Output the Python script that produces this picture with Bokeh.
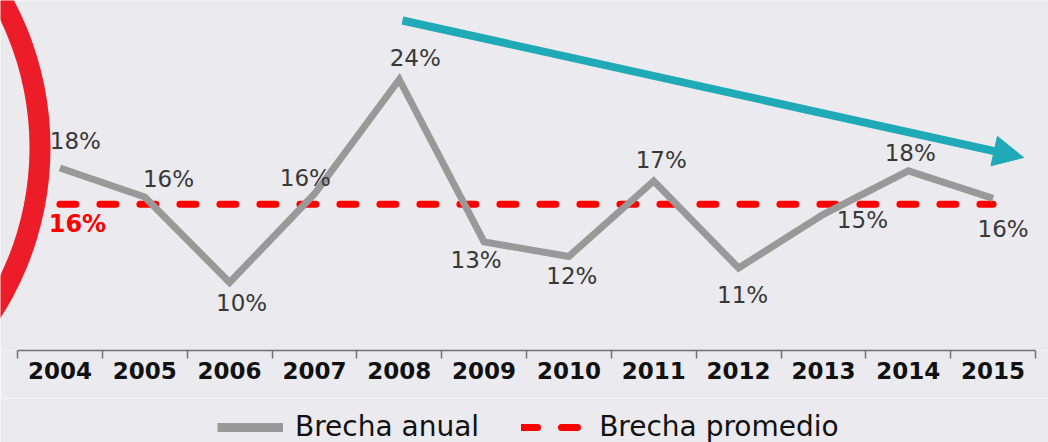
from bokeh.plotting import figure
from bokeh.layouts import column
from bokeh.models import (LinearAxis, FixedTicker, Legend, LegendItem, Range1d,
                          ColumnDataSource, Arrow, NormalHead)
from bokeh.core.properties import value
from bokeh.embed import file_html
from bokeh.resources import INLINE

# ---- data ----
years = ["2004", "2005", "2006", "2007", "2008", "2009",
         "2010", "2011", "2012", "2013", "2014", "2015"]
brecha_anual = [17.9, 15.9, 10.0, 16.1, 24.0, 12.8, 11.8, 17.0, 11.0, 14.7, 17.7, 15.8]
labels_anual = ["18%", "16%", "10%", "16%", "24%", "13%",
                "12%", "17%", "11%", "15%", "18%", "16%"]
brecha_promedio = 15.4
label_promedio = "16%"
series_names = ["Brecha anual", "Brecha promedio"]

# ---- layout / style constants ----
BG = "#ebeaef"
GREY = "#999999"
RED = "#ff0000"
TEAL = "#20a9b6"
RING = "#ed1c29"
FONT = "DejaVu Sans"

# label offsets in screen pixels (dx, dy) relative to each point
lab_dx = [15.5, 23.7, 12, -9, 16, -8, 3, 7.5, 4, 39, 2, 10]
lab_dy = [-26.5, -17.5, 21, -16.5, -21.5, 18, 20, -20.5, 27.5, 6, -17.5, 31]

x = [i + 0.5 for i in range(len(years))]

p = figure(frame_width=1048, frame_height=350, output_backend="svg", toolbar_location=None,
           x_axis_location=None, y_axis_location=None,
           x_range=Range1d(-0.2004, 12.1532), y_range=Range1d(5.31, 29.448),
           min_border_left=0, min_border_right=0, min_border_top=0, min_border_bottom=48)
p.background_fill_color = BG
p.border_fill_color = BG
p.outline_line_color = None
p.xgrid.visible = False
p.ygrid.visible = False

# decorative red ring on the left
p.annulus(x=[-3.324], y=[19.3], inner_radius=294, outer_radius=315,
          inner_radius_units="screen", outer_radius_units="screen",
          fill_color=RING, line_color=None)

avg_style = dict(line_color=RED, line_width=7, line_dash="16 24", line_cap="round")
line_style = dict(line_color=GREY, line_width=7, line_join="miter")

# average dashed line
p.line(x=[x[0], x[-1]], y=[brecha_promedio, brecha_promedio], **avg_style)

# annual line
src = ColumnDataSource(dict(x=x, y=brecha_anual, lab=labels_anual, dx=lab_dx, dy=lab_dy))
p.line("x", "y", source=src, **line_style)

p.text("x", "y", text="lab", source=src, x_offset="dx", y_offset="dy",
       text_font=value(FONT), text_font_size="23px", text_color="#383838",
       text_align="center", text_baseline="middle")

p.text(x=[x[0]], y=[brecha_promedio], text=[label_promedio], x_offset=17.5, y_offset=20,
       text_font=value(FONT), text_font_size="24px", text_font_style="bold",
       text_color=RED, text_align="center", text_baseline="middle")

# trend arrow
p.add_layout(Arrow(x_start=4.538, y_start=28.07, x_end=11.859, y_end=18.62,
                   line_color=TEAL, line_width=8,
                   end=NormalHead(size=30, fill_color=TEAL, line_color=TEAL)))

# axis with boundary ticks (no labels)
ax1 = LinearAxis(ticker=FixedTicker(ticks=list(range(len(years) + 1))), bounds=(0, len(years)),
                 major_label_overrides={i: "" for i in range(len(years) + 1)})
ax1.major_tick_in = 0
ax1.major_tick_out = 8
ax1.minor_tick_line_color = None
ax1.major_label_text_font_size = "1px"
ax1.major_label_text_color = None
ax1.major_label_standoff = 0
ax1.axis_line_color = "#707070"
ax1.axis_line_width = 1.5
ax1.major_tick_line_color = "#707070"
ax1.major_tick_line_width = 1.5
p.add_layout(ax1, "below")

# axis with year labels at category centres
ax2 = LinearAxis(ticker=FixedTicker(ticks=x),
                 major_label_overrides={xi: yr for xi, yr in zip(x, years)})
ax2.axis_line_color = None
ax2.major_tick_line_color = None
ax2.minor_tick_line_color = None
ax2.major_tick_in = 0
ax2.major_tick_out = 0
ax2.major_label_standoff = 3
ax2.major_label_text_font = FONT
ax2.major_label_text_font_size = "23px"
ax2.major_label_text_font_style = "bold"
ax2.major_label_text_color = "#111111"
p.add_layout(ax2, "below")

# legend strip below the chart
p2 = figure(frame_width=1048, frame_height=56, output_backend="svg", toolbar_location=None,
            x_axis_location=None, y_axis_location=None,
            x_range=Range1d(0, 1), y_range=Range1d(0, 1),
            min_border_left=0, min_border_right=0, min_border_top=0, min_border_bottom=0)
p2.background_fill_color = BG
p2.border_fill_color = BG
p2.outline_line_color = None
p2.xgrid.visible = False
p2.ygrid.visible = False
# legend samples (drawn outside the visible range of this strip)
g1 = p2.line(x=[-2, -1], y=[-2, -2], line_color=GREY, line_width=9)
g2 = p2.line(x=[-2, -1], y=[-2, -2], **avg_style)

legend = Legend(items=[LegendItem(label=series_names[0], renderers=[g1]),
                       LegendItem(label=series_names[1], renderers=[g2])],
                orientation="horizontal", location=(217, 11))
legend.background_fill_alpha = 0
legend.border_line_color = None
legend.label_text_font = FONT
legend.label_text_font_size = "28px"
legend.label_text_color = "#111111"
legend.glyph_width = 66
legend.glyph_height = 30
legend.label_standoff = 12
legend.spacing = 42
legend.padding = 0
legend.margin = 0
p2.add_layout(legend, "center")

open("out.html", "w").write(file_html(column(p, p2, spacing=0), INLINE))
